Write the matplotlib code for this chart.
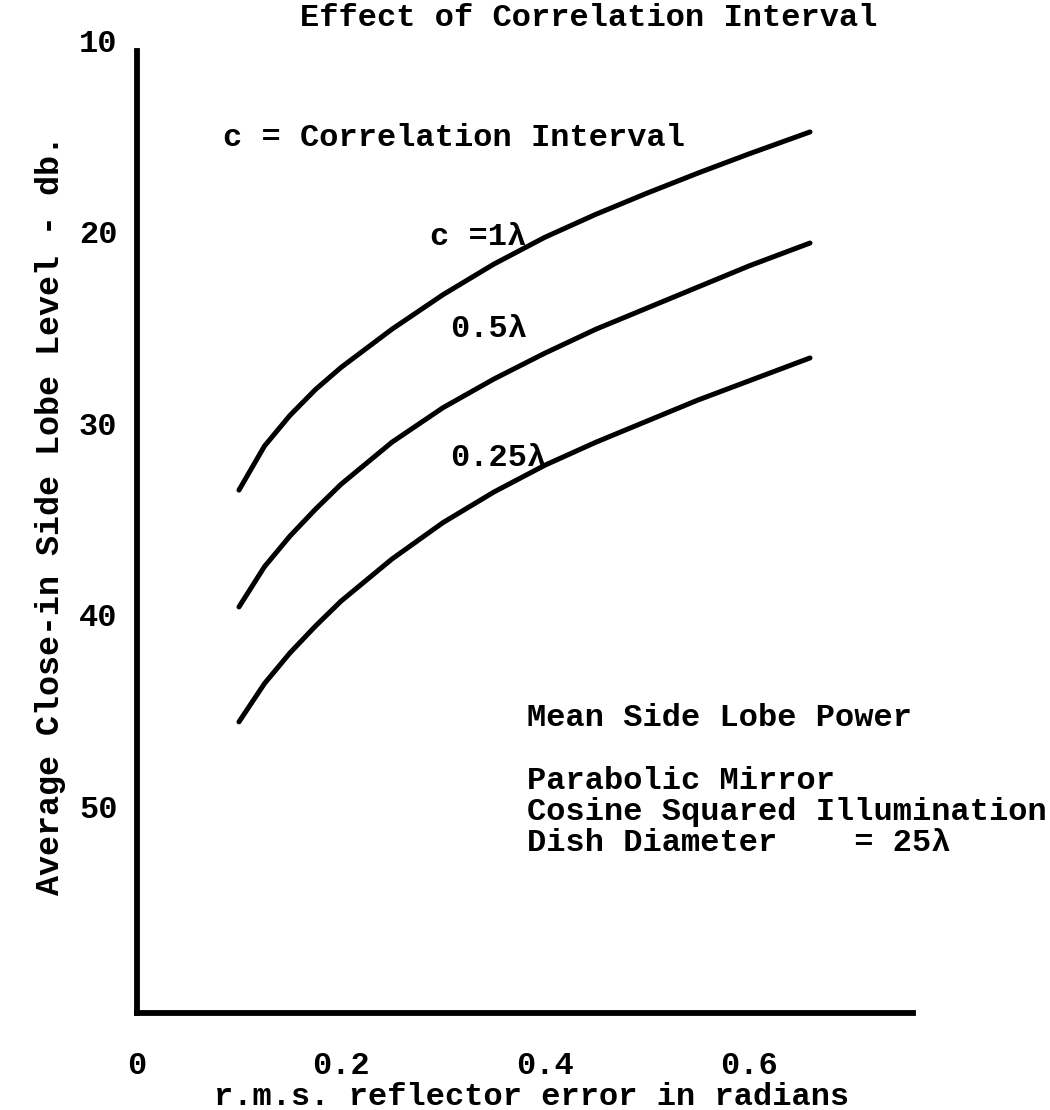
import matplotlib
matplotlib.use('Agg')
import matplotlib.pyplot as plt

plt.rcParams['font.family'] = ['Liberation Mono', 'DejaVu Sans Mono']
plt.rcParams['font.weight'] = 'bold'

# r.m.s. reflector error (radians)
rms_error = [0.10, 0.125, 0.15, 0.175, 0.20, 0.25, 0.30, 0.35, 0.40, 0.45, 0.50, 0.55, 0.60, 0.66]

# Average close-in side lobe level (db) for each correlation interval
level_c1 = [33.5, 31.2, 29.6, 28.25, 27.1, 25.1, 23.3, 21.7, 20.3, 19.1, 18.0, 16.95, 15.95, 14.8]
level_c05 = [39.6, 37.5, 35.9, 34.5, 33.2, 31.0, 29.2, 27.7, 26.35, 25.1, 24.0, 22.9, 21.8, 20.6]
level_c025 = [45.6, 43.6, 42.0, 40.6, 39.3, 37.1, 35.2, 33.6, 32.2, 31.0, 29.9, 28.8, 27.8, 26.6]

x_ticks = [0, 0.2, 0.4, 0.6]
y_ticks = [10, 20, 30, 40, 50]

fig = plt.figure(figsize=(10.5, 11.1), dpi=100)
ax = fig.add_axes([137 / 1050, 97 / 1110, 776 / 1050, 973 / 1110])

for level in [level_c1, level_c05, level_c025]:
    ax.plot(rms_error, level, color='black', linewidth=3.6,
            solid_capstyle='round', solid_joinstyle='round')

ax.set_xlim(0, 0.761)
ax.set_ylim(60.8, 10)

ax.spines['top'].set_visible(False)
ax.spines['right'].set_visible(False)
ax.spines['left'].set_linewidth(4.2)
ax.spines['bottom'].set_linewidth(4.2)
ax.spines['left'].set_bounds(60.8, 10.6)

ax.set_xticks(x_ticks)
ax.set_xticklabels(['0', '0.2', '0.4', '0.6'])
ax.set_yticks(y_ticks)
ax.tick_params(axis='x', length=0, pad=27, labelsize=23)
ax.tick_params(axis='y', length=0, pad=14, labelsize=23)

fig.text(0.561, 0.984, 'Effect of Correlation Interval', ha='center', va='center', fontsize=23)
fig.text(0.506, 0.012, 'r.m.s. reflector error in radians', ha='center', va='center', fontsize=23)
fig.text(0.048, 0.536, 'Average Close-in Side Lobe Level - db.', ha='center', va='center',
         rotation=90, fontsize=24)

# Curve labels
ax.text(0.084, 15.1, 'c = Correlation Interval', ha='left', va='center', fontsize=23)
ax.text(0.287, 20.3, 'c =1λ', ha='left', va='center', fontsize=23)
ax.text(0.307, 25.1, '0.5λ', ha='left', va='center', fontsize=23)
ax.text(0.307, 31.8, '0.25λ', ha='left', va='center', fontsize=23)

# Notes block
ax.text(0.382, 45.4, 'Mean Side Lobe Power', ha='left', va='center', fontsize=23)
ax.text(0.382, 48.7, 'Parabolic Mirror', ha='left', va='center', fontsize=23)
ax.text(0.382, 50.3, 'Cosine Squared Illumination', ha='left', va='center', fontsize=23)
ax.text(0.382, 51.9, 'Dish Diameter    = 25λ', ha='left', va='center', fontsize=23)

fig.savefig('out.png', dpi=100)
